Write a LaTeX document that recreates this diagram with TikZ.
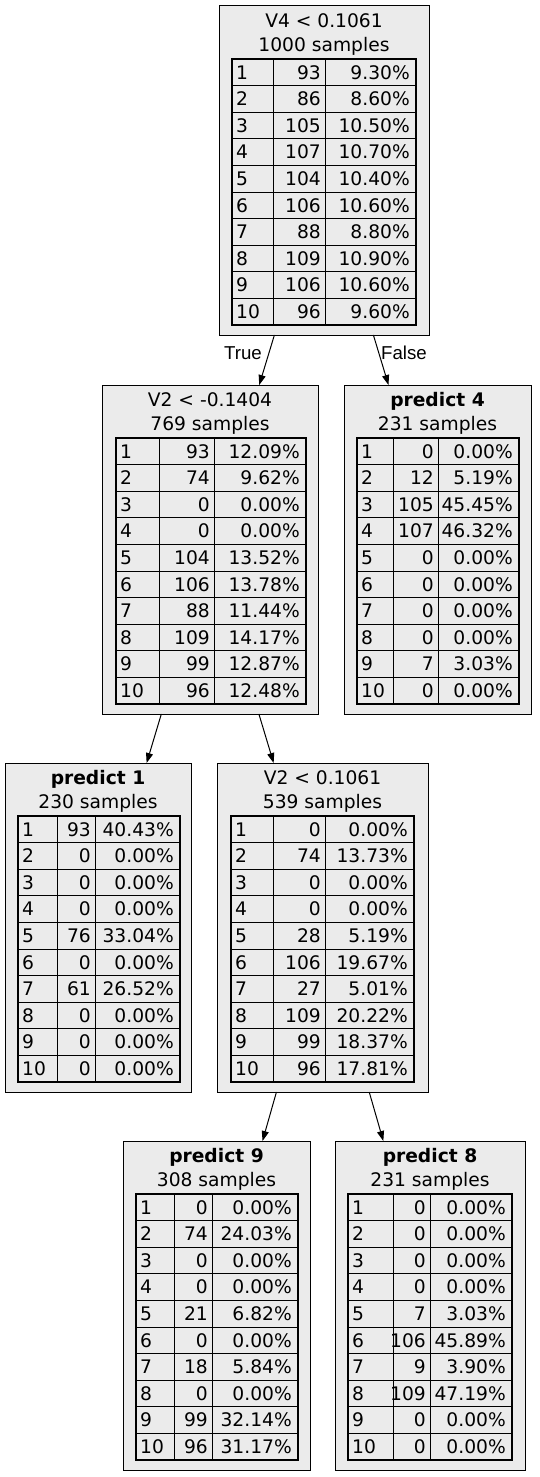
\documentclass[tikz,border=0pt]{standalone}
\usepackage{fontspec}
\setmainfont{DejaVu Sans}
\newfontfamily\lblfont{Liberation Sans}
\usetikzlibrary{arrows.meta}
\definecolor{boxfill}{HTML}{EBEBEB}
\tikzset{
 box/.style={draw=black, fill=boxfill, line width=1pt, inner sep=0pt, outer sep=0pt},
 ttl/.style={inner sep=0pt, font=\fontsize{18.67}{22}\selectfont, text height=13.6pt, text depth=0pt},
 cell/.style={inner sep=0pt, font=\fontsize{18.67}{22}\selectfont, text height=13.6pt, text depth=0pt},
 edge/.style={draw=black, line width=1pt, -{Triangle[length=10pt,width=7pt]}},
 elbl/.style={font=\lblfont\fontsize{18.67}{22}\selectfont, inner sep=0pt},
 tline/.style={line width=1pt},
 tframe/.style={line width=2pt},
}
\newcommand\dtbox[7]{%
 \pgfmathsetmacro\bw{#3-#2}\pgfmathsetmacro\bh{#5-#4}%
 \pgfmathsetmacro\bx{(#2+#3)/2}\pgfmathsetmacro\by{(#4+#5)/2}%
 \node[box, minimum width=\bw pt, minimum height=\bh pt] (#1) at (\bx,\by) {};
 \node[ttl] (#1-t1) at (\bx,#4+15) {#6};
 \node[ttl] (#1-t2) at (\bx,#4+39) {#7};
}
\newcommand\dtable[7]{%
 \pgfmathsetmacro\posA{#2+4}%
 \pgfmathsetmacro\posB{#4-4}%
 \pgfmathsetmacro\posC{#5-6}%
 \foreach \colA/\colB/\colC [count=\i] in {#7} {
   \pgfmathsetmacro\rowY{#6+(\i-0.5)*26.6}
   \node[cell, anchor=west] (#1-\i-a) at (\posA,\rowY) {\colA};
   \node[cell, anchor=east] (#1-\i-b) at (\posB,\rowY) {\colB};
   \node[cell, anchor=east] (#1-\i-c) at (\posC,\rowY) {\colC\%};
 }
 \foreach \i in {1,...,9} \draw[tline] (#2,{#6+\i*26.6}) -- (#5,{#6+\i*26.6});
 \draw[tline] (#3,#6) -- (#3,{#6+266});
 \draw[tline] (#4,#6) -- (#4,{#6+266});
 \draw[tframe] (#2,#6) rectangle (#5,{#6+266});
}
\begin{document}
\begin{tikzpicture}[x=1pt,y=-1pt]
\useasboundingbox (0,0) rectangle (539,1477);
% root
\dtbox{root}{219}{429}{6}{335}{V4 < 0.1061}{1000 samples}
\dtable{root}{232}{273}{325}{416}{59}{1/93/9.30, 2/86/8.60, 3/105/10.50, 4/107/10.70, 5/104/10.40, 6/106/10.60, 7/88/8.80, 8/109/10.90, 9/106/10.60, 10/96/9.60}
% n2
\dtbox{n2}{102}{318}{385}{714}{V2 < -0.1404}{769 samples}
\dtable{n2}{116}{159}{214}{306}{438}{1/93/12.09, 2/74/9.62, 3/0/0.00, 4/0/0.00, 5/104/13.52, 6/106/13.78, 7/88/11.44, 8/109/14.17, 9/99/12.87, 10/96/12.48}
% n3
\dtbox{n3}{344}{531}{385}{714}{\textbf{predict 4}}{231 samples}
\dtable{n3}{357}{393}{438}{519}{438}{1/0/0.00, 2/12/5.19, 3/105/45.45, 4/107/46.32, 5/0/0.00, 6/0/0.00, 7/0/0.00, 8/0/0.00, 9/7/3.03, 10/0/0.00}
% n4
\dtbox{n4}{5}{191}{763}{1092}{\textbf{predict 1}}{230 samples}
\dtable{n4}{18}{57}{95}{180}{816}{1/93/40.43, 2/0/0.00, 3/0/0.00, 4/0/0.00, 5/76/33.04, 6/0/0.00, 7/61/26.52, 8/0/0.00, 9/0/0.00, 10/0/0.00}
% n5
\dtbox{n5}{217}{428}{763}{1092}{V2 < 0.1061}{539 samples}
\dtable{n5}{231}{273}{325}{414}{816}{1/0/0.00, 2/74/13.73, 3/0/0.00, 4/0/0.00, 5/28/5.19, 6/106/19.67, 7/27/5.01, 8/109/20.22, 9/99/18.37, 10/96/17.81}
% n6
\dtbox{n6}{123}{310}{1141}{1470}{\textbf{predict 9}}{308 samples}
\dtable{n6}{136}{174}{212}{298}{1194}{1/0/0.00, 2/74/24.03, 3/0/0.00, 4/0/0.00, 5/21/6.82, 6/0/0.00, 7/18/5.84, 8/0/0.00, 9/99/32.14, 10/96/31.17}
% n7
\dtbox{n7}{335}{525}{1141}{1470}{\textbf{predict 8}}{231 samples}
\dtable{n7}{348}{393}{430}{512}{1194}{1/0/0.00, 2/0/0.00, 3/0/0.00, 4/0/0.00, 5/7/3.03, 6/106/45.89, 7/9/3.90, 8/109/47.19, 9/0/0.00, 10/0/0.00}
% edges
\draw[edge] (root) -- (n2);
\draw[edge] (root) -- (n3);
\draw[edge] (n2) -- (n4);
\draw[edge] (n2) -- (n5);
\draw[edge] (n5) -- (n6);
\draw[edge] (n5) -- (n7);
\node[elbl] (ltrue) at (243,353) {True};
\node[elbl] (lfalse) at (404,353) {False};
\end{tikzpicture}
\end{document}
